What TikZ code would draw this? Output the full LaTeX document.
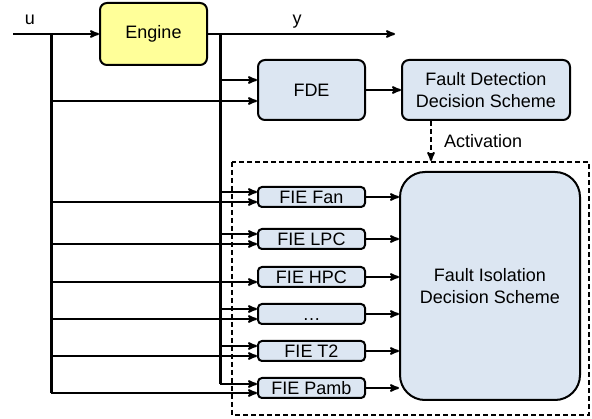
\documentclass[tikz,border=0pt]{standalone}
\usepackage{fontspec}
\setmainfont{Liberation Sans}
\usepackage{tikz}
\usetikzlibrary{arrows}
\usetikzlibrary{positioning}
\definecolor{engfill}{RGB}{255,255,153}
\definecolor{boxfill}{RGB}{220,230,242}
\tikzset{
	block/.style={rectangle,draw,line width=2pt,rounded corners=7pt,fill=boxfill,
		font=\fontsize{18}{22}\selectfont,align=center,inner sep=0pt},
	fie/.style={block,minimum width=107pt,minimum height=20pt,rounded corners=4pt,
		text height=13pt,text depth=0pt},
	tag/.style={font=\fontsize{18}{22}\selectfont,inner sep=0pt},
	sig/.style={line width=2pt},
	bus/.style={-,line width=3pt}
}

\begin{document}
\begin{tikzpicture}[->,>=stealth',x=1pt,y=-1pt]
	\useasboundingbox (0,0) rectangle (592,419);
	% isolation region
	\draw [-,dashed,line width=1.8pt,dash pattern=on 5pt off 3pt] (232,162) rectangle (589,415);
	\node [block,fill=engfill,minimum width=107pt,minimum height=62pt] (engine) at (153.5,34) {Engine};
	\node [block,minimum width=107pt,minimum height=60pt] (fde) at (311.5,90) {FDE};
	\node [block,minimum width=168pt,minimum height=60pt,right=35pt of fde] (fdds) {Fault Detection\\Decision Scheme};
	\node [fie] (fan) at (311.5,197) {FIE Fan};
	\node [fie,below=20pt of fan] (lpc) {FIE LPC};
	\node [fie,below=16pt of lpc] (hpc) {FIE HPC};
	\node [fie,below=15pt of hpc] (dots) {\ldots};
	\node [fie,below=15pt of dots] (t2) {FIE T2};
	\node [fie,below=15pt of t2] (pamb) {FIE Pamb};
	\node [block,minimum width=180pt,minimum height=228pt,rounded corners=25pt] (fids) at (490,286) {Fault Isolation\\Decision Scheme};
	\node [tag,anchor=base] (ulabel) at (30,25) {u};
	\node [tag,anchor=base] (ylabel) at (297,25) {y};
	\coordinate (uin) at (13,34);
	\coordinate (utap) at (51,34);
	\coordinate (ytap) at (220,34);
	\coordinate (yout) at (395,34);
	\coordinate (act) at (431,161);
	% plant in and out
	\draw [sig] (uin) -- (engine.west);
	\draw [sig] (engine.east) -- (yout);
	\draw [bus] (utap) -- ([yshift=-5pt]pamb.west -| utap);
	\draw [bus] (ytap) -- ([yshift=4pt]pamb.west -| ytap);
	% detection
	\draw [sig] ([yshift=10pt]fde.west -| ytap) -- ([yshift=10pt]fde.west);
	\draw [sig] ([yshift=-11pt]fde.west -| utap) -- ([yshift=-11pt]fde.west);
	\draw [sig] (fde) -- (fdds);
	\draw [sig,dashed,dash pattern=on 5pt off 3pt] (fdds.south -| act) -- node [tag,right=12pt] (actlabel) {Activation} (act);
	% isolation
	\foreach \n in {fan,lpc,dots,t2}
		\draw [sig] ([yshift=5pt]\n.west -| ytap) -- ([yshift=5pt]\n.west);
	\foreach \n in {fan,lpc,hpc,dots,t2}
		\draw [sig] ([yshift=-5pt]\n.west -| utap) -- ([yshift=-5pt]\n.west);
	\draw [sig] ([yshift=4pt]pamb.west -| ytap) -- ([yshift=4pt]pamb.west);
	\draw [sig] ([yshift=-5pt]pamb.west -| utap) -- ([yshift=-5pt]pamb.west);
	\foreach \n in {fan,lpc,hpc,dots,t2,pamb}
		\draw [sig] (\n.east) -- (\n.east -| fids.west);
\end{tikzpicture}
\end{document}
